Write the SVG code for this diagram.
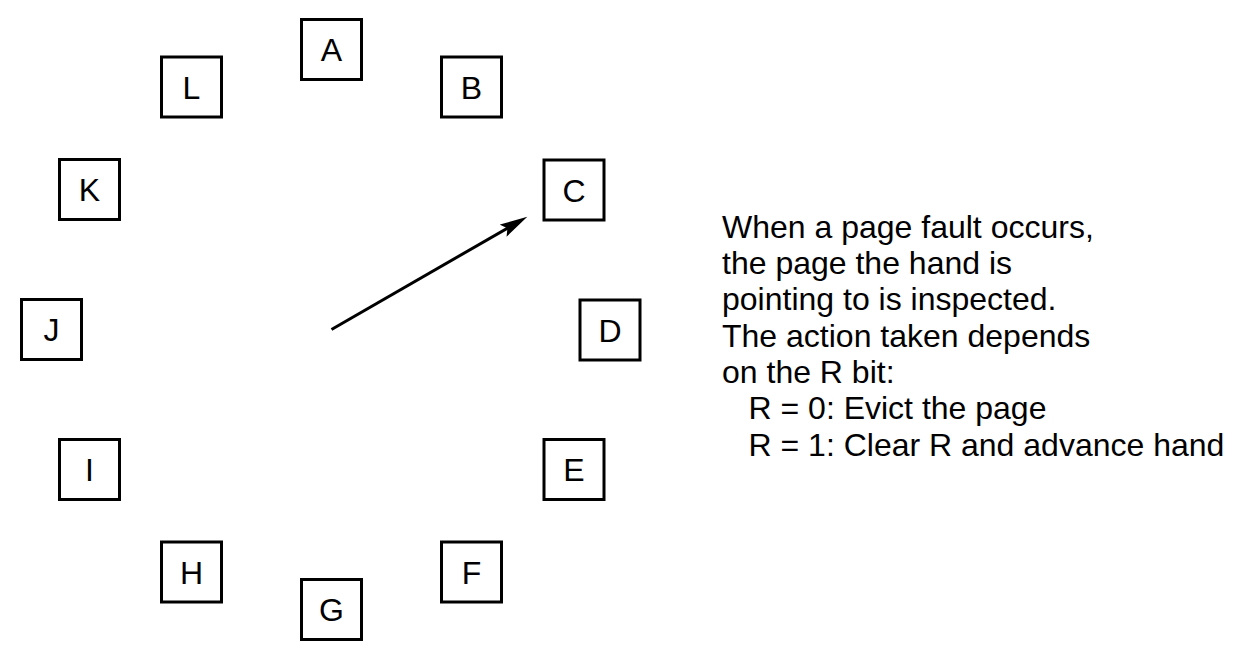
<svg xmlns="http://www.w3.org/2000/svg" width="1248" height="665" viewBox="0 0 1248 665">
<style>
.box rect{fill:#fff;stroke:#000;stroke-width:3}
.box text{font-family:"Liberation Sans",Arial,sans-serif;font-size:32px;text-anchor:middle;fill:#000}
.note{font-family:"Liberation Sans",Arial,sans-serif;font-size:32px;fill:#000}
.hand{stroke:#000;stroke-width:3;fill:none}
</style>
<defs>
<marker id="ah" markerUnits="userSpaceOnUse" markerWidth="30" markerHeight="16" refX="14" refY="7" orient="auto" viewBox="0 0 30 16">
<path d="M0,0 L28,7 L0,14 L5,7 Z" fill="#000"/>
</marker>
</defs>
<rect width="1248" height="665" fill="#fff"/>
<g id="node-A" class="box"><rect x="301.5" y="19.5" width="60" height="60"/><text x="331.5" y="61">A</text></g>
<g id="node-B" class="box"><rect x="441.5" y="57" width="60" height="60"/><text x="471.5" y="98.5">B</text></g>
<g id="node-C" class="box"><rect x="544" y="160" width="60" height="60"/><text x="574" y="201.5">C</text></g>
<g id="node-D" class="box"><rect x="580" y="300" width="60" height="60"/><text x="610" y="341.5">D</text></g>
<g id="node-E" class="box"><rect x="544" y="439.5" width="60" height="60"/><text x="574" y="481">E</text></g>
<g id="node-F" class="box"><rect x="441.5" y="542" width="60" height="60"/><text x="471.5" y="583.5">F</text></g>
<g id="node-G" class="box"><rect x="301.5" y="579.5" width="60" height="60"/><text x="331.5" y="621">G</text></g>
<g id="node-H" class="box"><rect x="161.5" y="542" width="60" height="60"/><text x="191.5" y="583.5">H</text></g>
<g id="node-I" class="box"><rect x="59.5" y="439.5" width="60" height="60"/><text x="89.5" y="481">I</text></g>
<g id="node-J" class="box"><rect x="21.5" y="299.5" width="60" height="60"/><text x="51.5" y="341">J</text></g>
<g id="node-K" class="box"><rect x="59.5" y="159.5" width="60" height="60"/><text x="89.5" y="201">K</text></g>
<g id="node-L" class="box"><rect x="161.5" y="57" width="60" height="60"/><text x="191.5" y="98.5">L</text></g>
<g id="connectors">
<line class="hand" x1="331.5" y1="329.5" x2="515.2" y2="223.7" marker-end="url(#ah)"/>
</g>
<g id="note">
<text class="note" x="722" y="237.7">When a page fault occurs,</text>
<text class="note" x="722" y="274">the page the hand is</text>
<text class="note" x="722" y="310.3">pointing to is inspected.</text>
<text class="note" x="722" y="346.6">The action taken depends</text>
<text class="note" x="722" y="382.9">on the R bit:</text>
<text class="note" x="748.5" y="419.2">R = 0: Evict the page</text>
<text class="note" x="748.5" y="455.5">R = 1: Clear R and advance hand</text>
</g>
</svg>
